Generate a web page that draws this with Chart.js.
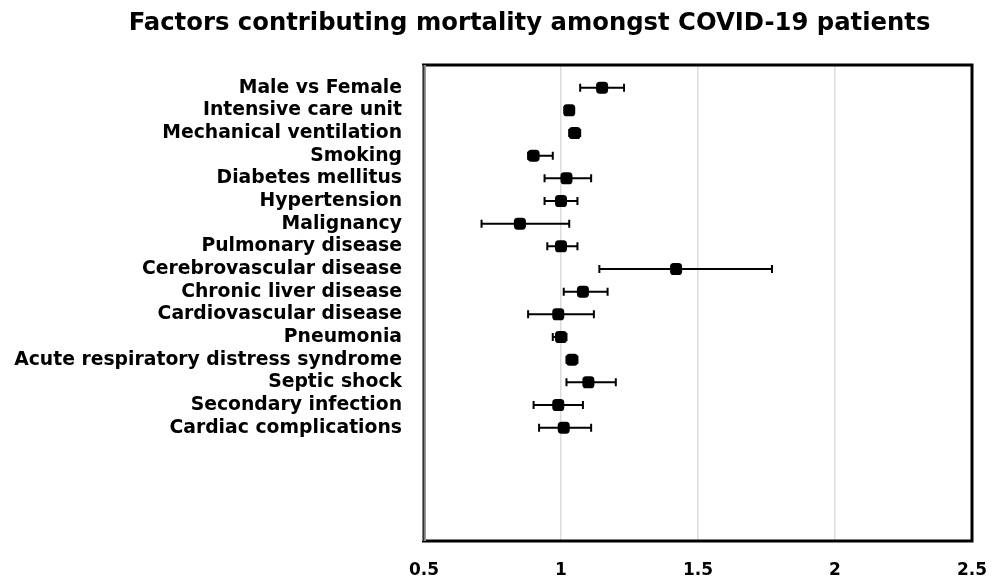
<!DOCTYPE html>
<html><head><meta charset="utf-8">
<script src="https://cdn.jsdelivr.net/npm/chart.js@4.4.0/dist/chart.umd.min.js"></script>
<style>html,body{margin:0;padding:0;background:#fff;}</style>
</head><body>
<canvas id="c" width="1003" height="582"></canvas>
<script>
const titleText = 'Factors contributing mortality amongst COVID-19 patients';
const categories = ['Male vs Female','Intensive care unit','Mechanical ventilation','Smoking','Diabetes mellitus','Hypertension','Malignancy','Pulmonary disease','Cerebrovascular disease','Chronic liver disease','Cardiovascular disease','Pneumonia','Acute respiratory distress syndrome','Septic shock','Secondary infection','Cardiac complications'];
const estimates = [1.15,1.03,1.05,0.90,1.02,1.00,0.85,1.00,1.42,1.08,0.99,1.00,1.04,1.10,0.99,1.01];
const lowerCI   = [1.07,1.02,1.03,0.88,0.94,0.94,0.71,0.95,1.14,1.01,0.88,0.97,1.02,1.02,0.90,0.92];
const upperCI   = [1.23,1.04,1.07,0.97,1.11,1.06,1.03,1.06,1.77,1.17,1.12,1.02,1.06,1.20,1.08,1.11];
const xTicks = [0.5,1,1.5,2,2.5];

const points = estimates.map((v,i)=>({x:v,y:i+1}));

const errorBars = {
  id:'errorBars',
  beforeDatasetsDraw(chart){
    const {ctx, scales:{x,y}} = chart;
    ctx.save();
    ctx.strokeStyle='#000'; ctx.lineWidth=2;
    for(let i=0;i<estimates.length;i++){
      const py=y.getPixelForValue(i+1);
      const x1=x.getPixelForValue(lowerCI[i]), x2=x.getPixelForValue(upperCI[i]);
      ctx.beginPath();
      ctx.moveTo(x1,py); ctx.lineTo(x2,py);
      ctx.moveTo(x1,py-4); ctx.lineTo(x1,py+4);
      ctx.moveTo(x2,py-4); ctx.lineTo(x2,py+4);
      ctx.stroke();
    }
    ctx.restore();
  }
};
const frame = {
  id:'frame',
  afterDraw(chart){
    const {ctx, chartArea:a} = chart;
    ctx.save();
    ctx.strokeStyle='#000'; ctx.lineWidth=3;
    ctx.beginPath();
    ctx.moveTo(a.left-2,a.top); ctx.lineTo(a.right,a.top); ctx.lineTo(a.right,a.bottom); ctx.lineTo(a.left-2,a.bottom);
    ctx.stroke();
    ctx.strokeStyle='#999'; ctx.lineWidth=4;
    ctx.beginPath(); ctx.moveTo(a.left,a.top); ctx.lineTo(a.left,a.bottom); ctx.stroke();
    ctx.strokeStyle='#333'; ctx.lineWidth=1.5;
    ctx.beginPath(); ctx.moveTo(a.left-0.5,a.top); ctx.lineTo(a.left-0.5,a.bottom); ctx.stroke();
    ctx.fillStyle='#000';
    ctx.font='bold 24.3px "DejaVu Sans", sans-serif';
    ctx.textAlign='center'; ctx.textBaseline='alphabetic';
    ctx.fillText(titleText, 529.5, 29.5);
    ctx.restore();
  }
};

new Chart(document.getElementById('c'), {
  type:'scatter',
  data:{datasets:[{
    data:points,
    pointStyle:'rectRounded',
    pointRadius:7, pointHoverRadius:7,
    backgroundColor:'#000', borderColor:'#000', borderWidth:0
  }]},
  options:{
    responsive:false, animation:false, devicePixelRatio:1,
    layout:{padding:{top:65,right:31,left:0,bottom:0}},
    plugins:{legend:{display:false}, tooltip:{enabled:false}, title:{display:false}},
    scales:{
      x:{
        type:'linear', min:0.5, max:2.5,
        afterBuildTicks(s){ s.ticks = xTicks.map(v=>({value:v})); },
        afterFit(s){ s.height = 41; s.paddingRight = 0; s.paddingLeft = 0; },
        grid:{color:(c)=> (c.tick && c.tick.value>0.5 && c.tick.value<2.5) ? '#dcdcdc' : 'rgba(0,0,0,0)', lineWidth:1.5, drawTicks:false},
        border:{display:false},
        ticks:{padding:19, color:'#000', font:{family:'"DejaVu Sans"', weight:'bold', size:17}, callback:(v)=>String(v)}
      },
      y:{
        type:'linear', reverse:true, min:0, max:21,
        afterBuildTicks(s){ s.ticks = categories.map((c,i)=>({value:i+1})); },
        afterFit(s){ s.width = 424; s.paddingTop = 0; s.paddingBottom = 0; },
        grid:{display:false, drawTicks:false},
        border:{display:false},
        ticks:{autoSkip:false, padding:22, color:'#000', font:{family:'"DejaVu Sans"', weight:'bold', size:18.8}, callback:(v)=>categories[v-1]||''}
      }
    }
  },
  plugins:[errorBars, frame]
});
</script>
</body></html>
